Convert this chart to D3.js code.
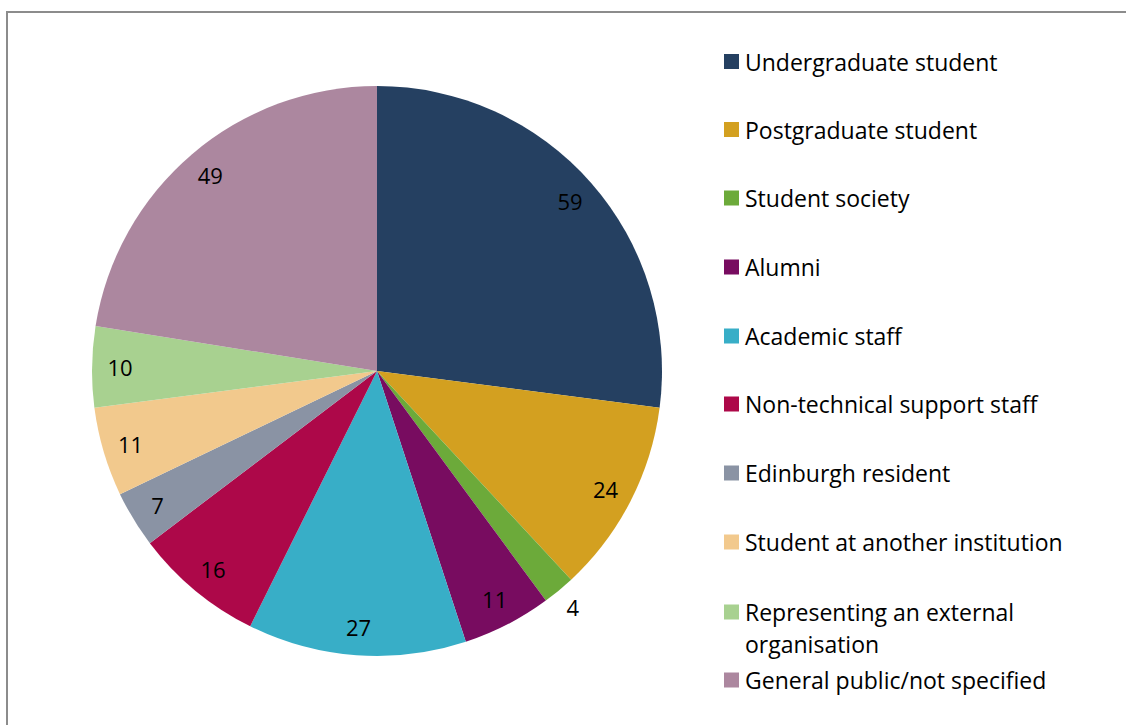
<!DOCTYPE html>
<html>
<head>
<meta charset="utf-8">
<script src="https://cdn.jsdelivr.net/npm/d3@7"></script>
<style>
  html, body { margin: 0; padding: 0; background: #fff; }
  svg { display: block; }
  text { font-family: "Open Sans", Lato, sans-serif; fill: #000; }
</style>
</head>
<body>
<svg id="chart" width="1126" height="725"></svg>
<script>
// Respondent categories and counts
const categories = [
  "Undergraduate student",
  "Postgraduate student",
  "Student society",
  "Alumni",
  "Academic staff",
  "Non-technical support staff",
  "Edinburgh resident",
  "Student at another institution",
  "Representing an external organisation",
  "General public/not specified"
];
const counts = [59, 24, 4, 11, 27, 16, 7, 11, 10, 49];
const colors = [
  "#254061", "#D3A020", "#6CAA3A", "#780C60", "#38AEC7",
  "#AD0849", "#8A93A4", "#F2C98D", "#A8D190", "#AC879F"
];
// Legend lines (long labels wrap onto two lines)
const legendLines = [
  ["Undergraduate student"],
  ["Postgraduate student"],
  ["Student society"],
  ["Alumni"],
  ["Academic staff"],
  ["Non-technical support staff"],
  ["Edinburgh resident"],
  ["Student at another institution"],
  ["Representing an external", "organisation"],
  ["General public/not specified"]
];

const svg = d3.select("#chart");

// Chart frame
svg.append("rect")
  .attr("x", 7).attr("y", 12)
  .attr("width", 1140).attr("height", 740)
  .attr("fill", "none")
  .attr("stroke", "#8c8c8c")
  .attr("stroke-width", 2);

const cx = 377, cy = 371, radius = 285;
const g = svg.append("g").attr("transform", `translate(${cx},${cy})`);

const data = categories.map((c, i) => ({ name: c, value: counts[i], color: colors[i] }));
const pie = d3.pie().value(d => d.value).sort(null);
const arcs = pie(data);
const arc = d3.arc().innerRadius(0).outerRadius(radius);

g.selectAll("path.slice")
  .data(arcs)
  .join("path")
  .attr("class", "slice")
  .attr("d", arc)
  .attr("fill", d => d.data.color);

// Value labels: inside near the rim, outside for very thin slices
const total = d3.sum(counts);
const inner = d3.arc().innerRadius(257).outerRadius(257);
const outer = d3.arc().innerRadius(307).outerRadius(307);
g.selectAll("text.val")
  .data(arcs)
  .join("text")
  .attr("class", "val")
  .attr("transform", d => {
    const a = (d.data.value / total) < 0.03 ? outer : inner;
    return `translate(${a.centroid(d)})`;
  })
  .attr("text-anchor", "middle")
  .attr("dominant-baseline", "central")
  .style("font-size", "22px")
  .text(d => d.data.value);

// Legend
const legendY = [61.5, 129.5, 198, 267, 336, 404, 473, 542, 612, 680];
const lg = svg.append("g");
legendLines.forEach((lines, i) => {
  const y = legendY[i];
  lg.append("rect")
    .attr("x", 724).attr("y", y - 7.5)
    .attr("width", 15).attr("height", 15)
    .attr("fill", colors[i]);
  lines.forEach((ln, j) => {
    lg.append("text")
      .attr("x", 745).attr("y", y + j * 32)
      .attr("dominant-baseline", "central")
      .style("font-size", "23px")
      .text(ln);
  });
});
</script>
</body>
</html>
